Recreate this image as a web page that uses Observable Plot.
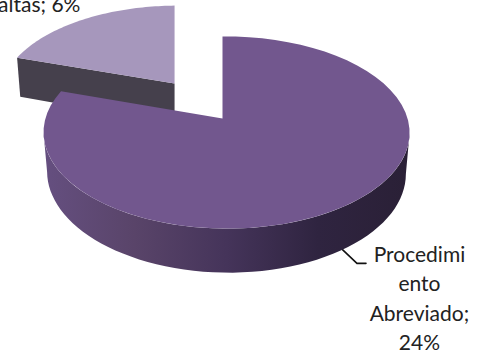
<!DOCTYPE html>
<html><head><meta charset="utf-8">
<script src="https://cdn.jsdelivr.net/npm/d3@7"></script>
<script src="https://cdn.jsdelivr.net/npm/@observablehq/plot@0.6"></script>
<style>html,body{margin:0;padding:0;background:#fff}svg{display:block}</style>
</head><body><div id="c"></div>
<script>
const sliceLabels = ["Procedimi\nento\nAbreviado;\n24%", "altas; 6%"];
const sliceValues = [24, 6];
const sliceColors = ["#72578e", "#a697bc"];
const smallSideColor = "#45404c";

// oblique-perspective view of a unit disc
const total = d3.sum(sliceValues);
const bigEnd = 2 * Math.PI * sliceValues[0] / total;
const tiltV = 0.146, tiltU = -0.022, depth = 0.42, shrink = 0.98;
const smallScale = {x: 0.975, y: 0.95}, smallShift = {x: -0.265, y: 0.372}, smallExtraDepth = 0.035;
function project(u, v, lower = false) {
  const w = 1 + tiltV * v + tiltU * u;
  const s = lower ? shrink : 1;
  return {x: s * u / w, y: s * v / w - (lower ? depth / w : 0)};
}
const rim = (a, lower = false) => project(Math.sin(a), Math.cos(a), lower);
const arc = (a0, a1, lower) => d3.range(0, 61).map(i => rim(a0 + (a1 - a0) * i / 60, lower));
const moved = p => ({x: smallShift.x + smallScale.x * p.x, y: smallShift.y + smallScale.y * p.y});
const deeper = p => ({x: p.x, y: p.y - smallExtraDepth});

const bigTop = [project(0, 0), ...arc(0, bigEnd)];
const bigSide = [...arc(1.72, 4.56), ...arc(4.56, 1.72, true)];

const smallTop = [project(0, 0), ...arc(bigEnd, 2 * Math.PI)].map(moved);
const smallFace = [moved(project(0, 0)), moved(rim(bigEnd)), deeper(moved(rim(bigEnd, true))), deeper(moved(project(0, 0, true)))];

const anchor = rim(bigEnd / 2, true);
const leader = [anchor, {x: anchor.x + 0.08, y: anchor.y - 0.145}, {x: anchor.x + 0.13, y: anchor.y - 0.145}];
const bigLabel = [{x: anchor.x + 0.425, y: anchor.y + 0.095, text: sliceLabels[0]}];
const smallLabel = [{x: -0.785, y: 1.135, text: sliceLabels[1]}];

const defs = () => {
  const d = d3.create("svg:defs");
  const g = d.append("linearGradient").attr("id", "bigSideGrad");
  [[0, "#654f80"], [0.25, "#594469"], [0.5, "#45345a"], [0.75, "#2f2440"], [1, "#2a2036"]].forEach(([o, c]) =>
    g.append("stop").attr("offset", o).attr("stop-color", c));
  return d.node();
};
const textStyle = {fontFamily: "Lato, sans-serif", fontSize: 21, fill: "#222"};

const chart = Plot.plot({
  width: 482, height: 353,
  marginTop: 0, marginRight: 0, marginBottom: 0, marginLeft: 0,
  style: {background: "#fff"},
  x: {domain: [-222 / 181, 260 / 181], range: [0, 482], axis: null},
  y: {domain: [118 / 94, -235 / 94], range: [0, 353], axis: null},
  marks: [
    defs,
    Plot.line(smallFace, {x: "x", y: "y", fill: smallSideColor, stroke: "none"}),
    Plot.line(smallTop, {x: "x", y: "y", fill: sliceColors[1], stroke: "none"}),
    Plot.line(leader, {x: "x", y: "y", stroke: "#111", strokeWidth: 1.6}),
    Plot.line(bigSide, {x: "x", y: "y", fill: "url(#bigSideGrad)", stroke: "none"}),
    Plot.line(bigTop, {x: "x", y: "y", fill: sliceColors[0], stroke: "none"}),
    Plot.text(bigLabel, {x: "x", y: "y", text: "text", lineAnchor: "top", lineHeight: 1.405, textAnchor: "middle", ...textStyle}),
    Plot.text(smallLabel, {x: "x", y: "y", text: "text", lineAnchor: "bottom", textAnchor: "end", ...textStyle})
  ]
});
document.getElementById("c").appendChild(chart);
</script></body></html>
